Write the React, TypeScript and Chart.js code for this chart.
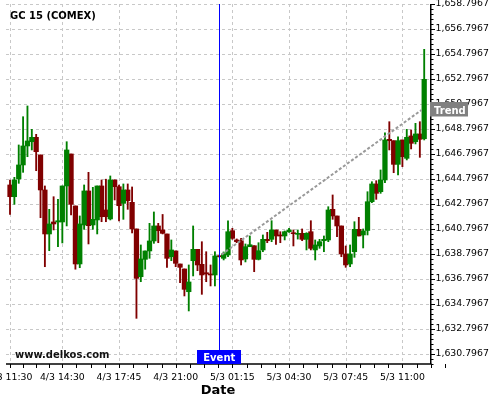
import { useEffect, useRef } from 'react';
import { Chart, registerables } from 'chart.js';

Chart.register(...registerables);

// ---- data (15-minute candles) ----
const opens = [
  1644.32, 1643.38, 1644.80, 1645.92, 1647.44, 1647.78, 1648.13, 1646.72, 1643.92, 1640.40,
  1641.36, 1641.36, 1641.36, 1644.24, 1646.80, 1642.64, 1638.00, 1641.12, 1643.84, 1641.12,
  1641.52, 1644.24, 1642.32, 1641.60, 1644.72, 1644.18, 1642.85, 1643.92, 1642.93, 1640.80,
  1636.98, 1638.37, 1639.04, 1639.84, 1641.04, 1640.72, 1640.40, 1638.58, 1639.04, 1638.00,
  1637.60, 1635.78, 1638.26, 1639.17, 1637.97, 1637.30, 1637.20, 1637.12, 1638.64, 1638.45,
  1638.72, 1640.66, 1639.92, 1639.86, 1638.40, 1639.38, 1639.46, 1638.37, 1639.12, 1639.97,
  1639.97, 1640.72, 1640.32, 1640.24, 1640.58, 1640.50, 1640.37, 1640.45, 1639.97, 1640.58,
  1639.12, 1639.44, 1639.86, 1639.92, 1642.37, 1641.84, 1641.04, 1638.80, 1638.00, 1638.98,
  1640.77, 1640.32, 1640.68, 1642.98, 1644.40, 1643.78, 1644.72, 1647.97, 1647.86, 1645.97,
  1647.92, 1646.45, 1648.24, 1647.78, 1648.40, 1648.02,
];
const highs = [
  1644.72, 1644.93, 1647.52, 1649.78, 1650.64, 1648.77, 1648.37, 1646.72, 1644.24, 1642.37,
  1643.38, 1643.17, 1644.24, 1647.78, 1646.80, 1642.64, 1641.84, 1644.32, 1645.33, 1644.13,
  1644.24, 1644.72, 1644.78, 1645.04, 1644.72, 1644.32, 1644.40, 1644.40, 1644.16, 1640.80,
  1639.52, 1639.04, 1641.25, 1642.16, 1641.25, 1641.96, 1640.40, 1639.92, 1639.04, 1638.00,
  1637.60, 1637.92, 1641.04, 1639.17, 1639.78, 1638.98, 1637.92, 1638.98, 1638.68, 1638.96,
  1641.46, 1640.85, 1640.00, 1640.05, 1639.60, 1640.24, 1639.46, 1639.70, 1640.32, 1640.53,
  1641.46, 1640.72, 1640.58, 1640.64, 1640.85, 1640.72, 1640.72, 1640.80, 1640.50, 1641.46,
  1639.92, 1639.97, 1640.24, 1642.58, 1643.52, 1641.84, 1641.04, 1639.44, 1639.52, 1641.38,
  1641.73, 1640.80, 1643.78, 1644.58, 1644.66, 1645.52, 1648.50, 1649.38, 1647.86, 1648.18,
  1647.92, 1648.77, 1648.72, 1649.25, 1649.38, 1655.17,
];
const lows = [
  1641.97, 1642.77, 1644.45, 1645.33, 1646.58, 1647.12, 1645.46, 1641.70, 1637.78, 1639.06,
  1640.72, 1639.38, 1639.68, 1641.04, 1641.92, 1637.58, 1637.70, 1640.77, 1639.60, 1640.77,
  1640.40, 1641.38, 1641.38, 1641.52, 1643.12, 1641.44, 1641.57, 1642.37, 1640.48, 1633.65,
  1636.58, 1637.58, 1638.45, 1639.65, 1639.70, 1640.40, 1637.73, 1638.26, 1637.78, 1636.50,
  1635.44, 1634.24, 1637.04, 1637.46, 1635.57, 1636.58, 1636.24, 1636.24, 1638.55, 1638.32,
  1638.58, 1639.97, 1639.70, 1637.92, 1638.16, 1639.38, 1637.38, 1638.32, 1638.98, 1639.70,
  1639.78, 1639.56, 1639.70, 1639.92, 1640.53, 1639.44, 1639.99, 1639.86, 1639.12, 1639.12,
  1638.32, 1639.25, 1638.98, 1639.78, 1641.57, 1640.18, 1638.58, 1637.73, 1637.78, 1638.53,
  1640.24, 1639.28, 1640.32, 1642.90, 1643.17, 1643.65, 1644.50, 1647.12, 1645.30, 1645.12,
  1645.78, 1646.32, 1647.20, 1647.60, 1646.53, 1647.92,
];
const closes = [
  1643.38, 1644.72, 1645.92, 1647.44, 1647.84, 1648.13, 1646.98, 1643.92, 1640.40, 1641.20,
  1641.20, 1641.46, 1644.24, 1647.12, 1642.77, 1638.00, 1641.20, 1643.84, 1641.06, 1641.57,
  1644.24, 1641.78, 1641.78, 1644.72, 1644.18, 1642.66, 1643.92, 1643.06, 1640.80, 1636.85,
  1638.40, 1639.04, 1639.84, 1641.04, 1640.66, 1640.45, 1638.45, 1639.12, 1638.05, 1637.73,
  1635.97, 1636.56, 1639.17, 1637.92, 1637.12, 1637.20, 1637.12, 1638.64, 1638.58, 1638.80,
  1640.58, 1640.05, 1639.78, 1638.32, 1639.38, 1639.54, 1638.37, 1639.06, 1639.97, 1639.86,
  1640.72, 1640.24, 1640.24, 1640.58, 1640.72, 1640.42, 1640.45, 1639.97, 1640.45, 1639.25,
  1639.52, 1639.78, 1639.97, 1642.32, 1641.84, 1641.04, 1638.80, 1637.92, 1638.80, 1640.77,
  1640.24, 1640.64, 1642.98, 1644.40, 1643.65, 1644.72, 1647.92, 1647.86, 1645.97, 1647.86,
  1646.58, 1648.13, 1647.65, 1648.40, 1647.97, 1652.77,
];

const xTickIndex = [0, 12, 25, 38, 51, 64, 77, 90];
const xTickLabels = ['4/3 11:30', '4/3 14:30', '4/3 17:45', '4/3 21:00', '5/3 01:15', '5/3 04:30', '5/3 07:45', '5/3 11:00'];
const yTickValues = [
  1630.7967, 1632.7967, 1634.7967, 1636.7967, 1638.7967, 1640.7967, 1642.7967, 1644.7967,
  1646.7967, 1648.7967, 1650.7967, 1652.7967, 1654.7967, 1656.7967, 1658.7967,
];
const yMin = 1629.9967;
const yMax = 1658.7967;
const xMin = -0.92;
const xMax = 96.33;

const eventIndex = 48;
const trendX = [48.5, 94.4];
const trendY = [1638.75, 1650.32];

const chartTitle = 'GC 15 (COMEX)';
const watermark = 'www.delkos.com';
const xTitle = 'Date';

const UP = '#008000';
const DOWN = '#800000';
const FONT = '"DejaVu Sans", sans-serif';

const fmt = (v: number) => {
  const [i, d] = v.toFixed(4).split('.');
  return i.replace(/\B(?=(\d{3})+(?!\d))/g, ',') + '.' + d;
};

const overlay = {
  id: 'overlay',
  beforeDatasetsDraw(chart: any) {
    const { ctx, chartArea: a, scales } = chart;
    const x = scales.x;
    const y = scales.y;
    ctx.save();
    ctx.strokeStyle = '#c8c8c8';
    ctx.lineWidth = 1;
    ctx.setLineDash([3, 3]);
    for (const v of yTickValues) {
      const py = Math.round(y.getPixelForValue(v)) + 0.5;
      ctx.beginPath();
      ctx.moveTo(a.left, py);
      ctx.lineTo(a.right, py);
      ctx.stroke();
    }
    for (const i of xTickIndex) {
      const px = Math.round(x.getPixelForValue(i)) + 0.5;
      ctx.beginPath();
      ctx.moveTo(px, a.top);
      ctx.lineTo(px, a.bottom);
      ctx.stroke();
    }
    ctx.restore();
  },
  afterDatasetsDraw(chart: any) {
    const { ctx, chartArea: a, scales } = chart;
    const px = Math.round(scales.x.getPixelForValue(eventIndex)) + 0.5;
    ctx.save();
    ctx.strokeStyle = '#0000ff';
    ctx.lineWidth = 1;
    ctx.beginPath();
    ctx.moveTo(px, a.top);
    ctx.lineTo(px, a.bottom);
    ctx.stroke();
    ctx.restore();
  },
  afterDraw(chart: any) {
    const { ctx, chartArea: a, scales } = chart;
    const x = scales.x;
    const y = scales.y;
    ctx.save();
    // axes lines
    ctx.strokeStyle = '#000';
    ctx.lineWidth = 1.5;
    ctx.beginPath();
    ctx.moveTo(a.left, a.bottom);
    ctx.lineTo(a.right + 1.5, a.bottom);
    ctx.stroke();
    ctx.beginPath();
    ctx.moveTo(a.right + 0.75, a.top);
    ctx.lineTo(a.right + 0.75, a.bottom);
    ctx.stroke();
    // y ticks
    ctx.lineWidth = 1;
    for (const v of yTickValues) {
      const py = Math.round(y.getPixelForValue(v)) + 0.5;
      ctx.beginPath();
      ctx.moveTo(a.right + 1, py);
      ctx.lineTo(a.right + 5, py);
      ctx.stroke();
    }
    for (let k = 0; ; k++) {
      const v = yMax - k * 0.4;
      if (v < yMin) break;
      if (k % 5 === 0) continue;
      const py = Math.round(y.getPixelForValue(v)) + 0.5;
      ctx.beginPath();
      ctx.moveTo(a.right + 1, py);
      ctx.lineTo(a.right + 3.5, py);
      ctx.stroke();
    }
    // x ticks (major + quarter minors)
    const xt: number[] = [];
    for (let j = 0; j < xTickIndex.length; j++) {
      const s = xTickIndex[j];
      const step = j < xTickIndex.length - 1 ? (xTickIndex[j + 1] - s) / 4 : 3.25;
      for (let k = 0; k < 4; k++) xt.push(s + k * step);
      if (j === xTickIndex.length - 1) {
        for (let k = 4; s + k * step <= xMax + 0.2; k++) xt.push(s + k * step);
      }
    }
    for (const v of xt) {
      const px = Math.round(x.getPixelForValue(v)) + 0.5;
      ctx.beginPath();
      ctx.moveTo(px, a.bottom);
      ctx.lineTo(px, a.bottom + 4);
      ctx.stroke();
    }
    // texts
    ctx.fillStyle = '#000';
    ctx.textBaseline = 'alphabetic';
    ctx.textAlign = 'left';
    ctx.font = `bold 10px ${FONT}`;
    ctx.fillText(chartTitle, 10, 19);
    ctx.fillStyle = '#111';
    ctx.fillText(watermark, 15, 357.5);
    ctx.fillStyle = '#000';
    ctx.font = `bold 13px ${FONT}`;
    ctx.textAlign = 'center';
    ctx.fillText(xTitle, (a.left + a.right) / 2, 394);

    // Event box
    const ex = x.getPixelForValue(eventIndex);
    ctx.fillStyle = '#0000ff';
    ctx.fillRect(Math.round(ex) - 22, 350, 44, 14);
    ctx.fillStyle = '#fff';
    ctx.font = `bold 10px ${FONT}`;
    ctx.textAlign = 'center';
    ctx.fillText('Event', ex, 361);

    // Trend box
    const ty = y.getPixelForValue(trendY[1]);
    ctx.fillStyle = '#808080';
    ctx.fillRect(a.right, Math.round(ty) - 8, 38, 14.5);
    ctx.fillStyle = '#fff';
    ctx.textAlign = 'left';
    ctx.fillText('Trend', a.right + 4, Math.round(ty) + 3.5);
    ctx.restore();
  },
};

export default function App() {
  const ref = useRef<HTMLCanvasElement>(null);
  useEffect(() => {
    const idx = opens.map((_, i) => i);
    const up = idx.filter((i) => closes[i] >= opens[i]);
    const down = idx.filter((i) => closes[i] < opens[i]);
    const body = (list: number[]) => list.map((i) => ({ x: i, y: [opens[i], closes[i]] }));
    const wick = (list: number[]) => list.map((i) => ({ x: i, y: [lows[i], highs[i]] }));

    const chart = new Chart(ref.current as HTMLCanvasElement, {
      type: 'bar',
      data: {
        datasets: [
          {
            type: 'line',
            data: [
              { x: trendX[0], y: trendY[0] },
              { x: trendX[1], y: trendY[1] },
            ],
            borderColor: '#999999',
            borderWidth: 2,
            borderDash: [3, 2],
            pointRadius: 0,
            order: 0,
          } as any,
          { data: body(up) as any, backgroundColor: UP, barThickness: 4.6, minBarLength: 1, grouped: false, order: 1 } as any,
          { data: body(down) as any, backgroundColor: DOWN, barThickness: 4.6, minBarLength: 1, grouped: false, order: 1 } as any,
          { data: wick(up) as any, backgroundColor: UP, barThickness: 1.2, grouped: false, order: 2 } as any,
          { data: wick(down) as any, backgroundColor: DOWN, barThickness: 1.2, grouped: false, order: 2 } as any,
        ],
      },
      options: {
        animation: false,
        responsive: false,
        devicePixelRatio: 1,
        events: [],
        layout: { padding: { left: 6, top: 4, right: 0, bottom: 0 } },
        plugins: { legend: { display: false }, tooltip: { enabled: false }, title: { display: false } },
        scales: {
          x: {
            type: 'linear',
            min: xMin,
            max: xMax,
            offset: false,
            grid: { display: false, drawTicks: false },
            border: { display: false },
            afterBuildTicks: (s: any) => {
              s.ticks = xTickIndex.map((v) => ({ value: v }));
            },
            afterFit: (s: any) => {
              s.height = 36;
              s.paddingLeft = 0;
              s.paddingRight = 0;
            },
            ticks: {
              autoSkip: false,
              maxRotation: 0,
              padding: 8,
              color: '#000',
              font: { family: FONT, size: 9.33 },
              callback: (_v: any, i: number) => xTickLabels[i],
            },
          },
          y: {
            type: 'linear',
            position: 'right',
            min: yMin,
            max: yMax,
            grid: { display: false, drawTicks: false },
            border: { display: false },
            afterBuildTicks: (s: any) => {
              s.ticks = yTickValues.map((v) => ({ value: v }));
            },
            afterFit: (s: any) => {
              s.width = 70;
              s.paddingTop = 0;
              s.paddingBottom = 0;
            },
            ticks: {
              padding: 5.5,
              color: '#000',
              font: { family: FONT, size: 9.33 },
              callback: (v: any) => fmt(Number(v)),
            },
          },
        },
      } as any,
      plugins: [overlay],
    });
    return () => chart.destroy();
  }, []);
  return (
    <div style={{ position: 'fixed', left: 0, top: 0, width: 500, height: 400, background: '#fff' }}>
      <canvas ref={ref} width={500} height={400} style={{ display: 'block' }} />
    </div>
  );
}
